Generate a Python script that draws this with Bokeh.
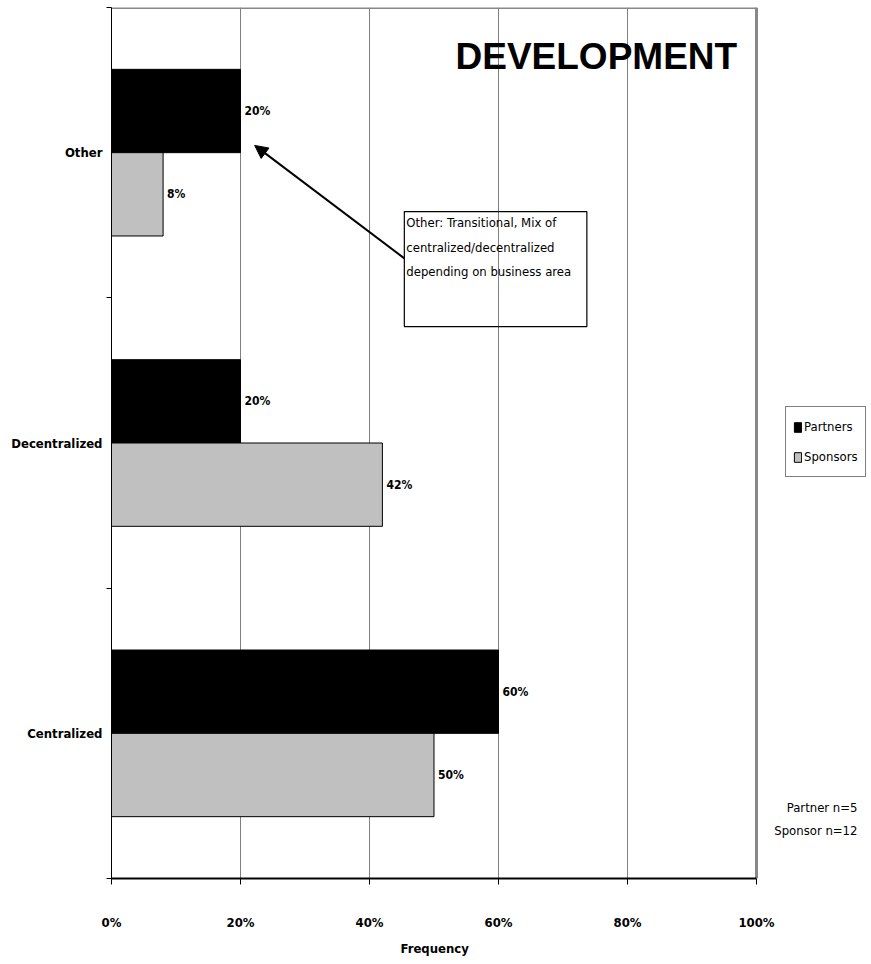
from bokeh.plotting import figure
from bokeh.models import (ColumnDataSource, FixedTicker, NumeralTickFormatter, Legend, LegendItem,
                          Label, Arrow, NormalHead, BoxAnnotation, Title)
from bokeh.core.properties import value
from bokeh.embed import file_html
from bokeh.resources import INLINE

categories = ["Centralized", "Decentralized", "Other"]
partners = [0.60, 0.20, 0.20]
sponsors = [0.50, 0.42, 0.08]
partner_labels = ["60%", "20%", "20%"]
sponsor_labels = ["50%", "42%", "8%"]
x_ticks = [0, 0.2, 0.4, 0.6, 0.8, 1.0]
note_lines = ["Other: Transitional, Mix of", "centralized/decentralized", "depending on business area"]

NARROW = "DejaVu Sans Condensed"
centers = [i + 0.5 for i in range(len(categories))]
bar_h = 0.287
off = bar_h / 2

p = figure(width=871, height=964, output_backend="svg", toolbar_location=None,
           x_range=(0, 1.1783), y_range=(0, 3),
           min_border_left=111, min_border_right=0, min_border_top=7, min_border_bottom=86)
p.outline_line_color = None
p.ygrid.visible = False
p.xgrid.ticker = FixedTicker(ticks=x_ticks)
p.xgrid.grid_line_color = "#808080"
p.xgrid.grid_line_width = 1

# plot-area border (top and right)
p.segment(x0=[0, 1], y0=[3, 0], x1=[1, 1], y1=[3, 3], line_color="#888888", line_width=3)

src_p = ColumnDataSource(dict(y=[c + off for c in centers], right=partners, lab=partner_labels))
src_s = ColumnDataSource(dict(y=[c - off for c in centers], right=sponsors, lab=sponsor_labels))

rp = p.hbar(y="y", right="right", left=0, height=bar_h, source=src_p,
            fill_color="black", line_color="black", line_width=1)
rs = p.hbar(y="y", right="right", left=0, height=bar_h, source=src_s,
            fill_color="#c0c0c0", line_color="black", line_width=1)

for src in (src_p, src_s):
    p.text(x="right", y="y", text="lab", source=src, x_offset=4,
           text_font=value(NARROW), text_font_style="bold", text_font_size="12px",
           text_align="left", text_baseline="middle", text_color="black")

# x axis
xa = p.xaxis[0]
xa.ticker = FixedTicker(ticks=x_ticks)
xa.bounds = (0, 1)
xa.formatter = NumeralTickFormatter(format="0%")
xa.axis_line_color = "black"
xa.axis_line_width = 2
xa.major_tick_in = 0
xa.major_tick_out = 6
xa.minor_tick_line_color = None
xa.major_label_standoff = 30
xa.major_label_text_font = NARROW
xa.major_label_text_font_style = "bold"
xa.major_label_text_font_size = "13px"
xa.major_label_text_color = "black"

# axis title, centred under the 0-100% span
p.add_layout(Title(text="Frequency", align="left", offset=289, standoff=12,
                   text_font=NARROW, text_font_style="bold", text_font_size="13px",
                   text_color="black"), "below")

# y axis
ya = p.yaxis[0]
ya.ticker = FixedTicker(ticks=centers, minor_ticks=[0, 1, 2, 3])
ya.major_label_overrides = {c: name for c, name in zip(centers, categories)}
ya.major_tick_line_color = None
ya.major_tick_out = 0
ya.major_tick_in = 0
ya.minor_tick_out = 5
ya.minor_tick_in = 0
ya.minor_tick_line_color = "black"
ya.axis_line_color = "black"
ya.axis_line_width = 1
ya.major_label_standoff = 4
ya.major_label_text_font = NARROW
ya.major_label_text_font_style = "bold"
ya.major_label_text_font_size = "13px"
ya.major_label_text_color = "black"

# Title inside the frame
p.add_layout(Label(x=0.97, y=2.83, text="DEVELOPMENT", text_font="Liberation Sans",
                   text_font_style="bold", text_font_size="37px", text_align="right",
                   text_baseline="middle", text_color="black"))

# Note box with arrow
p.add_layout(BoxAnnotation(left=0.454, right=0.737, top=2.297, bottom=1.901,
                           fill_alpha=0, line_color="black", line_alpha=1, line_width=1.2))
for i, line in enumerate(note_lines):
    p.add_layout(Label(x=0.457, y=2.26 - i * 0.0855, text=line, text_font=NARROW,
                       text_font_size="13px", text_align="left", text_baseline="middle",
                       text_color="black"))
p.add_layout(Arrow(x_start=0.454, y_start=2.136, x_end=0.222, y_end=2.525,
                   line_color="black", line_width=2,
                   end=NormalHead(size=13, fill_color="black", line_color="black")))

# Legend
legend = Legend(items=[LegendItem(label="Partners", renderers=[rp]),
                       LegendItem(label="Sponsors", renderers=[rs])],
                location=(674, 401), border_line_color="black", border_line_width=1,
                background_fill_alpha=1, label_text_font=NARROW, label_text_font_size="13px",
                label_text_color="black",
                glyph_width=9, glyph_height=12, label_standoff=2, spacing=5,
                padding=7, margin=0, label_height=25)
p.add_layout(legend, "center")

# sample sizes
p.add_layout(Label(x=1.1566, y=0.245, text="Partner n=5", text_font=NARROW,
                   text_font_size="13px", text_align="right", text_baseline="middle",
                   text_color="black"))
p.add_layout(Label(x=1.1566, y=0.166, text="Sponsor n=12", text_font=NARROW,
                   text_font_size="13px", text_align="right", text_baseline="middle",
                   text_color="black"))

open("out.html", "w").write(file_html(p, INLINE))
